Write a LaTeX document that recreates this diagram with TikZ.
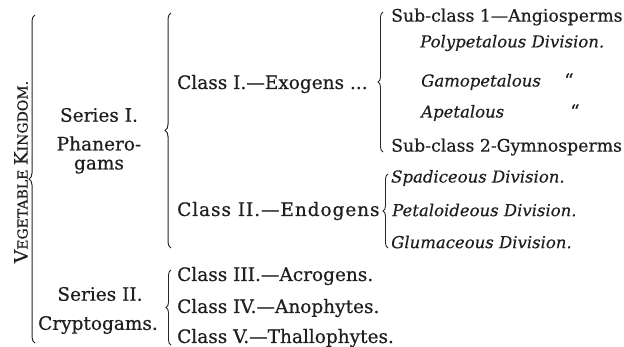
\documentclass[tikz,border=0pt]{standalone}
\usepackage{fontspec}
\setmainfont{DejaVu Serif}
\newfontfamily\clar[FakeBold=0.5]{DejaVu Serif}
\newfontfamily\clarit[FakeBold=0.3]{DejaVu Serif Italic}
\usetikzlibrary{decorations.pathreplacing}
\tikzset{
  txt/.style={anchor=west, inner sep=0pt, font=\clar\fontsize{18.5}{19}\selectfont, text=black!88},
  sub/.style={anchor=west, inner sep=0pt, font=\clar\fontsize{17.3}{19}\selectfont, text=black!88},
  ctr/.style={anchor=center, inner sep=0pt, font=\clar\fontsize{18.5}{19}\selectfont, text=black!88, align=center},
  itx/.style={anchor=west, inner sep=0pt, font=\clarit\fontsize{16.5}{18}\selectfont, text=black!88},
  brc/.style={draw=black!85, line width=1pt, decorate, decoration={brace, amplitude=6pt}},
  sbrc/.style={draw=black!85, line width=0.9pt, decorate, decoration={brace, amplitude=5pt}}
}
\begin{document}
\begin{tikzpicture}[x=1pt,y=-1pt]
\useasboundingbox[fill=white] (0,0) rectangle (624,346);
% vertical title
\node[rotate=90, inner sep=0pt, text=black!88, font=\clar] (vk) at (21,172)
  {\fontsize{18.5}{18}\selectfont V\fontsize{14}{14}\selectfont EGETABLE \fontsize{18.5}{18}\selectfont K\fontsize{14}{14}\selectfont INGDOM.};
% outer brace
\coordinate (b1t) at (35,15);
\coordinate (b1b) at (35,343);
\draw[brc] (b1b) -- (b1t);
% series I
\node[ctr] (s1) at (99,115) {Series I.};
\node[ctr] (ph) at (99,155) {Phanero-\\gams};
\coordinate (b2t) at (171,13);
\coordinate (b2b) at (171,248);
\draw[brc] (b2b) -- (b2t);
% class I
\node[txt] (c1) at (177,84) {Class I.—Exogens ...};
\coordinate (b3t) at (383,12);
\coordinate (b3b) at (383,152);
\draw[sbrc] (b3b) -- (b3t);
\node[sub] (sc1) at (391,17) {Sub-class 1—Angiosperms};
\node[itx] (poly) at (420,43) {Polypetalous Division.};
\node[itx] (gamo) at (421,82) {Gamopetalous};
\node[txt] (d1) at (564,80) {“};
\node[itx] (apet) at (421,113) {Apetalous};
\node[txt] (d2) at (570,111) {“};
\node[sub] (sc2) at (391,147) {Sub-class 2-Gymnosperms};
% class II
\node[txt] (c2) at (177,211) {\addfontfeature{LetterSpace=5}Class II.—Endogens};
\coordinate (b4t) at (388,174);
\coordinate (b4b) at (388,248);
\draw[sbrc] (b4b) -- (b4t);
\node[itx] (spad) at (391,178) {Spadiceous Division.};
\node[itx] (peta) at (392,210) {Petaloideous Division.};
\node[itx] (glum) at (391,242) {Glumaceous Division.};
% series II
\node[ctr] (s2) at (100,294) {Series II.};
\node[ctr] (cr) at (98,325) {Cryptogams.};
\coordinate (b5t) at (171,270);
\coordinate (b5b) at (171,345);
\draw[sbrc] (b5b) -- (b5t);
\node[txt] (c3) at (177,276) {Class III.—Acrogens.};
\node[txt] (c4) at (177,308) {Class IV.—Anophytes.};
\node[txt] (c5) at (177,338) {Class V.—Thallophytes.};
\end{tikzpicture}
\end{document}
